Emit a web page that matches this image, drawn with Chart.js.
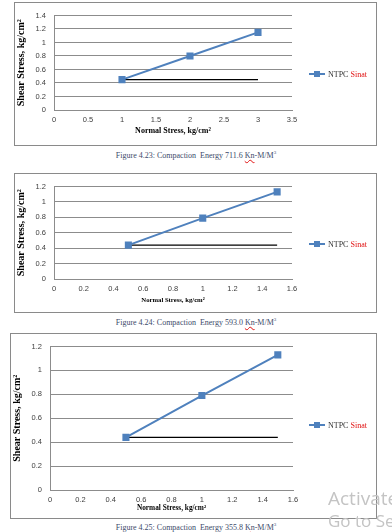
<!DOCTYPE html>
<html>
<head>
<meta charset="utf-8">
<script src="https://cdn.jsdelivr.net/npm/chart.js@4.4.0/dist/chart.umd.min.js"></script>
<style>
  html, body { margin: 0; padding: 0; background: #fff; }
  body { width: 392px; height: 532px; position: relative; overflow: hidden; font-family: "Liberation Serif", serif; }
  .box { position: absolute; border: 1px solid #8a8a8a; box-sizing: border-box; }
  .box canvas { display: block; }
  .legend { position: absolute; left: 309px; height: 10px; display: flex; align-items: center; font-size: 8px; color: #333; white-space: nowrap; }
  .swatch { position: relative; width: 16px; height: 2px; background: #4f81bd; margin-right: 3px; }
  .swatch::after { content: ""; position: absolute; left: 5px; top: -2px; width: 6px; height: 6px; background: #4f81bd; }
  .sp { color: #e01010; }
  .caption { position: absolute; left: 0; width: 392px; text-align: center; font-size: 8px; line-height: 10px; color: #3c4a6a; }
  .kn { text-decoration: underline wavy #e01010; }
  .wm { position: absolute; left: 328px; font-family: "Open Sans", sans-serif; font-size: 19px; line-height: 19px; color: #c4c4c4; white-space: nowrap; }
</style>
</head>
<body>

<div class="box" style="left:14px; top:2px; width:363px; height:144px;">
  <canvas id="fig23" width="361" height="142"></canvas>
</div>
<div class="legend" style="top:69px;"><span class="swatch"></span>NTPC&nbsp;<span class="sp">Sinat</span></div>
<div class="caption" style="top:148px;">Figure 4.23: Compaction&nbsp; Energy 711.6 <span class="kn">Kn</span>-M/M<sup style="font-size:5px">3</sup></div>

<div class="box" style="left:14px; top:173px; width:363px; height:140px;">
  <canvas id="fig24" width="361" height="138"></canvas>
</div>
<div class="legend" style="top:239px;"><span class="swatch"></span>NTPC&nbsp;<span class="sp">Sinat</span></div>
<div class="caption" style="top:315px;">Figure 4.24: Compaction&nbsp; Energy 593.0 <span class="kn">Kn</span>-M/M<sup style="font-size:5px">3</sup></div>

<div class="box" style="left:10px; top:333px; width:367px; height:186px;">
  <canvas id="fig25" width="365" height="184"></canvas>
</div>
<div class="legend" style="top:420px;"><span class="swatch"></span>NTPC&nbsp;<span class="sp">Sinat</span></div>
<div class="caption" style="top:520px;">Figure 4.25: Compaction&nbsp; Energy 355.8 <span class="kn">Kn</span>-M/M<sup style="font-size:5px">3</sup></div>

<div class="wm" style="top:489px;">Activate Windows</div>
<div class="wm" style="top:511px; font-size:17px;">Go to Settings</div>

<script>
/* DATA */
const fig23Normal = [1, 2, 3];
const fig23Shear = [0.45, 0.80, 1.15];
const fig23Ref = 0.45;
const fig23XTicks = [0, 0.5, 1, 1.5, 2, 2.5, 3, 3.5];
const fig23YTicks = [0, 0.2, 0.4, 0.6, 0.8, 1, 1.2, 1.4];

const fig24Normal = [0.5, 1, 1.5];
const fig24Shear = [0.44, 0.79, 1.13];
const fig24Ref = 0.44;
const fig24XTicks = [0, 0.2, 0.4, 0.6, 0.8, 1, 1.2, 1.4, 1.6];
const fig24YTicks = [0, 0.2, 0.4, 0.6, 0.8, 1, 1.2];

const fig25Normal = [0.5, 1, 1.5];
const fig25Shear = [0.44, 0.79, 1.13];
const fig25Ref = 0.44;
const fig25XTicks = [0, 0.2, 0.4, 0.6, 0.8, 1, 1.2, 1.4, 1.6];
const fig25YTicks = [0, 0.2, 0.4, 0.6, 0.8, 1, 1.2];

const seriesName = "NTPC Sinat";
const xTitle = "Normal Stress, kg/cm²";
const yTitle = "Shear Stress, kg/cm²";

const gridColor = "#8c8c8c";
const tickColor = "#404040";

/* BUILD ONE CHART */
function makeChart(id, xs, ys, ref, xTicks, yTicks, lay) {
  const pts = xs.map((x, i) => ({ x: x, y: ys[i] }));
  const refLine = [
    { x: xs[0], y: ref },
    { x: xs[xs.length - 1], y: ref }
  ];

  return new Chart(document.getElementById(id).getContext("2d"), {
    type: "scatter",
    data: {
      datasets: [
        {
          label: seriesName,
          data: pts,
          showLine: true,
          borderColor: "#4f81bd",
          backgroundColor: "#4f81bd",
          borderWidth: 2,
          pointStyle: "rect",
          pointRadius: 3.6,
          order: 1
        },
        {
          label: "ref",
          data: refLine,
          showLine: true,
          borderColor: "#000",
          borderWidth: 1.3,
          pointRadius: 0,
          order: 2
        }
      ]
    },
    options: {
      responsive: false,
      animation: false,
      layout: { padding: { top: lay.top, right: lay.right, left: 0, bottom: 0 } },
      plugins: { legend: { display: false }, tooltip: { enabled: false } },
      scales: {
        x: {
          type: "linear",
          min: xTicks[0],
          max: xTicks[xTicks.length - 1],
          afterBuildTicks: s => { s.ticks = xTicks.map(v => ({ value: v })); },
          afterFit: s => { s.height = lay.xHeight; },
          ticks: {
            color: tickColor,
            font: { family: "Liberation Sans", size: 7.5 },
            padding: 5,
            maxRotation: 0,
            callback: v => String(v)
          },
          grid: { display: false, drawTicks: false },
          border: { color: gridColor },
          title: {
            display: true,
            text: xTitle,
            color: "#000",
            font: { family: "Liberation Serif", size: lay.xFont, weight: "bold" },
            padding: { top: 0, bottom: lay.xTitlePad }
          }
        },
        y: {
          type: "linear",
          min: yTicks[0],
          max: yTicks[yTicks.length - 1],
          afterBuildTicks: s => { s.ticks = yTicks.map(v => ({ value: v })); },
          afterFit: s => { s.width = 39; },
          ticks: {
            color: tickColor,
            font: { family: "Liberation Sans", size: 7.5 },
            padding: 8,
            callback: v => String(v)
          },
          grid: { color: gridColor, lineWidth: 1, drawTicks: false },
          border: { color: gridColor },
          title: {
            display: true,
            text: yTitle,
            color: "#000",
            font: { family: "Liberation Serif", size: 10, weight: "bold" },
            padding: { top: 0, bottom: 0 }
          }
        }
      }
    }
  });
}

makeChart("fig23", fig23Normal, fig23Shear, fig23Ref, fig23XTicks, fig23YTicks,
  { top: 8, right: 84, xHeight: 35, xFont: 8, xTitlePad: 9 });
makeChart("fig24", fig24Normal, fig24Shear, fig24Ref, fig24XTicks, fig24YTicks,
  { top: 8, right: 84, xHeight: 33, xFont: 6.7, xTitlePad: 8 });
makeChart("fig25", fig25Normal, fig25Shear, fig25Ref, fig25XTicks, fig25YTicks,
  { top: 6, right: 83, xHeight: 28, xFont: 7.3, xTitlePad: 5.5 });
</script>
</body>
</html>
